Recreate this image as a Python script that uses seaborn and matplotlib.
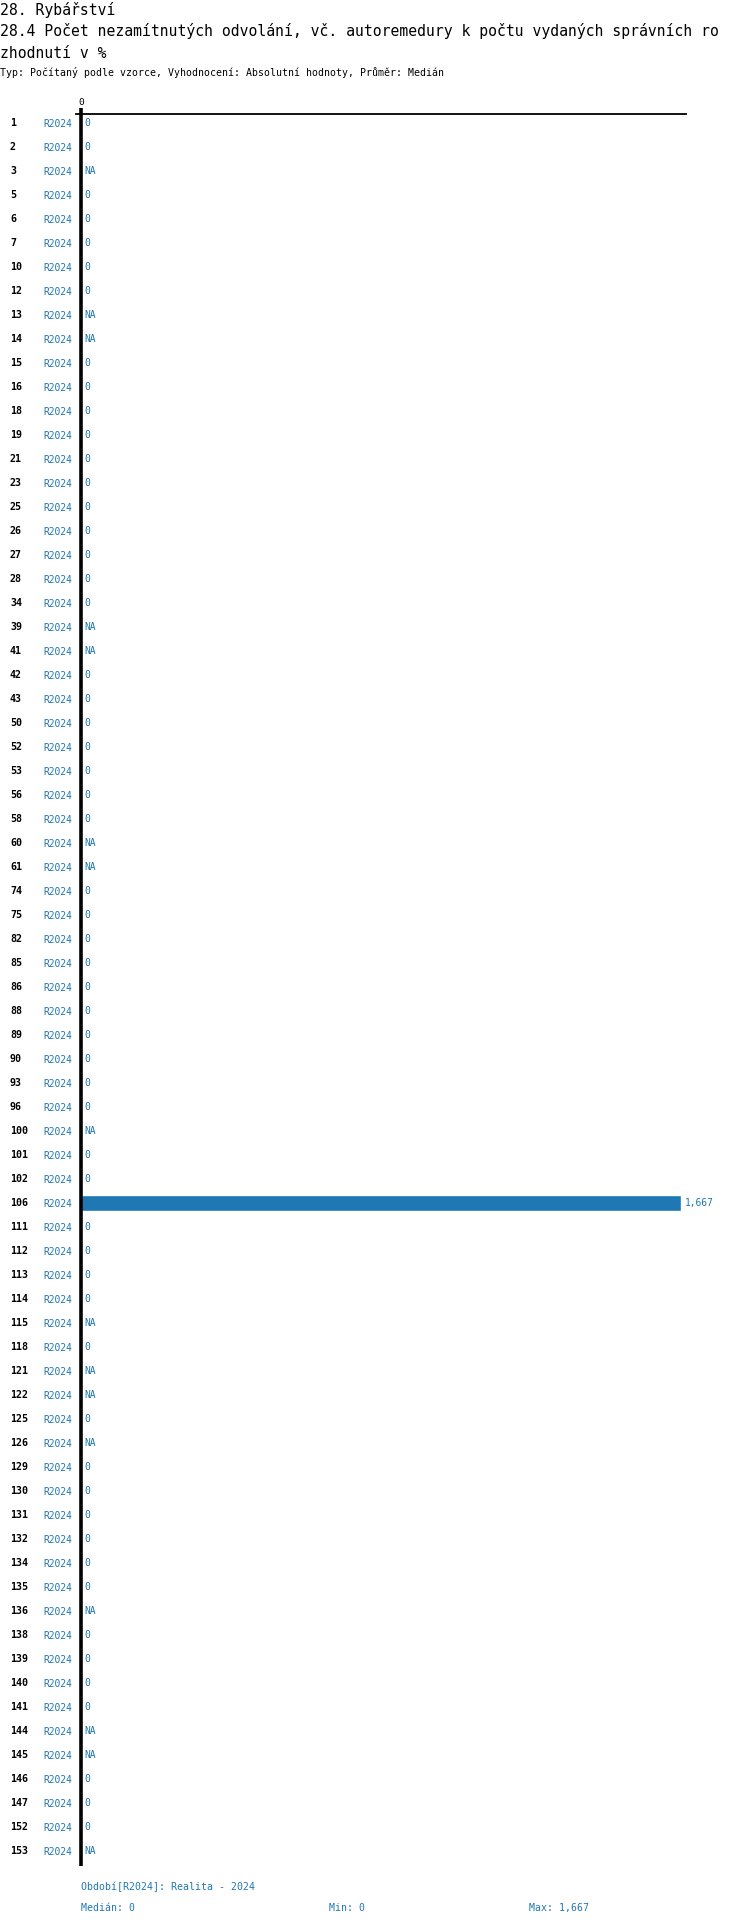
import numpy as np
import pandas as pd
import matplotlib
matplotlib.use("Agg")
import matplotlib.pyplot as plt
import matplotlib.transforms as mtransforms
import seaborn as sns

# Municipality codes (rows), reporting period and indicator values (NaN = NA)
categories = [1, 2, 3, 5, 6, 7, 10, 12, 13, 14, 15, 16, 18, 19, 21, 23, 25, 26, 27, 28,
              34, 39, 41, 42, 43, 50, 52, 53, 56, 58, 60, 61, 74, 75, 82, 85, 86, 88, 89, 90,
              93, 96, 100, 101, 102, 106, 111, 112, 113, 114, 115, 118, 121, 122, 125, 126,
              129, 130, 131, 132, 134, 135, 136, 138, 139, 140, 141, 144, 145, 146, 147, 152, 153]
na_codes = [3, 13, 14, 39, 41, 60, 61, 100, 115, 121, 122, 126, 136, 144, 145, 153]
nonzero = {106: 1.667}
values = [np.nan if c in na_codes else nonzero.get(c, 0.0) for c in categories]
period = "R2024"

title_lines = ["28. Rybářství",
               "28.4 Počet nezamítnutých odvolání, vč. autoremedury k počtu vydaných správních ro",
               "zhodnutí v %"]
subtitle = "Typ: Počítaný podle vzorce, Vyhodnocení: Absolutní hodnoty, Průměr: Medián"
footer_period = "Období[R2024]: Realita - 2024"

BLUE = "#1f77b4"
W, H = 750, 1926


def fmt(v):
    if np.isnan(v):
        return "NA"
    s = f"{v:.3f}".rstrip("0").rstrip(".")
    return s.replace(".", ",")


df = pd.DataFrame({"code": [str(c) for c in categories], "value": values})

sns.set_theme(style="white")
plt.rcParams["font.family"] = ["DejaVu Sans Mono", "DejaVu Sans"]

fig = plt.figure(figsize=(W / 100, H / 100), dpi=100)
# axes box in pixel coordinates
left, right, top, bottom = 76, 686, 114, 1866
ax = fig.add_axes([left / W, 1 - bottom / H, (right - left) / W, (bottom - top) / H])

order = [str(c) for c in categories]
sns.barplot(data=df.dropna(), x="value", y="code", order=order, orient="h",
            color=BLUE, width=0.67, saturation=1, ax=ax)

n = len(categories)
px_per_unit = (681 - 81) / 1.667
ax.set_xlim(-(81 - left) / px_per_unit, (right - 81) / px_per_unit)
ax.set_ylim(n - 1 + 0.625, -0.375)

# axis styling: only the top line plus a thick zero line
for side in ["left", "right", "bottom"]:
    ax.spines[side].set_visible(False)
ax.spines["top"].set_linewidth(1.3)
ax.spines["top"].set_color("black")
ax.axvline(0, color="black", lw=2.6, zorder=5)
ax.xaxis.tick_top()
ax.set_xticks([0])
ax.set_xticklabels(["0"], fontsize=6.8)
ax.tick_params(axis="x", direction="out", length=4, width=2.6, pad=1, colors="black")
ax.set_xlabel("")
ax.set_ylabel("")

# period labels as y tick labels
ax.set_yticks(range(n))
ax.set_yticklabels([period] * n, fontsize=6.9, color=BLUE)
ax.tick_params(axis="y", length=0, pad=3)

# row codes at the far left
trans_code = mtransforms.blended_transform_factory(fig.transFigure, ax.transData)
for i, c in enumerate(categories):
    ax.text(10 / W, i, str(c), transform=trans_code, ha="left", va="center",
            fontsize=7.2, fontweight="bold", color="black")

# value labels next to bars
off = mtransforms.offset_copy(ax.transData, fig=fig, x=3.5, y=0, units="dots")
for i, v in enumerate(values):
    xpos = 0 if np.isnan(v) else v
    ax.text(xpos, i, fmt(v), transform=off, ha="left", va="center",
            fontsize=6.9, color=BLUE)

# header
def ftext(x, y, s, **kw):
    fig.text(x / W, 1 - y / H, s, va="center", ha="left", **kw)

ftext(0, 10, title_lines[0], fontsize=10.6, color="black")
ftext(0, 31, title_lines[1], fontsize=10.6, color="black")
ftext(0, 53, title_lines[2], fontsize=10.6, color="black")
ftext(0, 73, subtitle, fontsize=7.1, color="black")

# footer summary
valid = np.array([v for v in values if not np.isnan(v)])
ftext(81, 1887, footer_period, fontsize=7.1, color=BLUE)
ftext(81, 1908, f"Medián: {fmt(np.median(valid))}", fontsize=7.1, color=BLUE)
ftext(329, 1908, f"Min: {fmt(valid.min())}", fontsize=7.1, color=BLUE)
ftext(529, 1908, f"Max: {fmt(valid.max())}", fontsize=7.1, color=BLUE)

fig.savefig("out.png", dpi=100, facecolor="white")
